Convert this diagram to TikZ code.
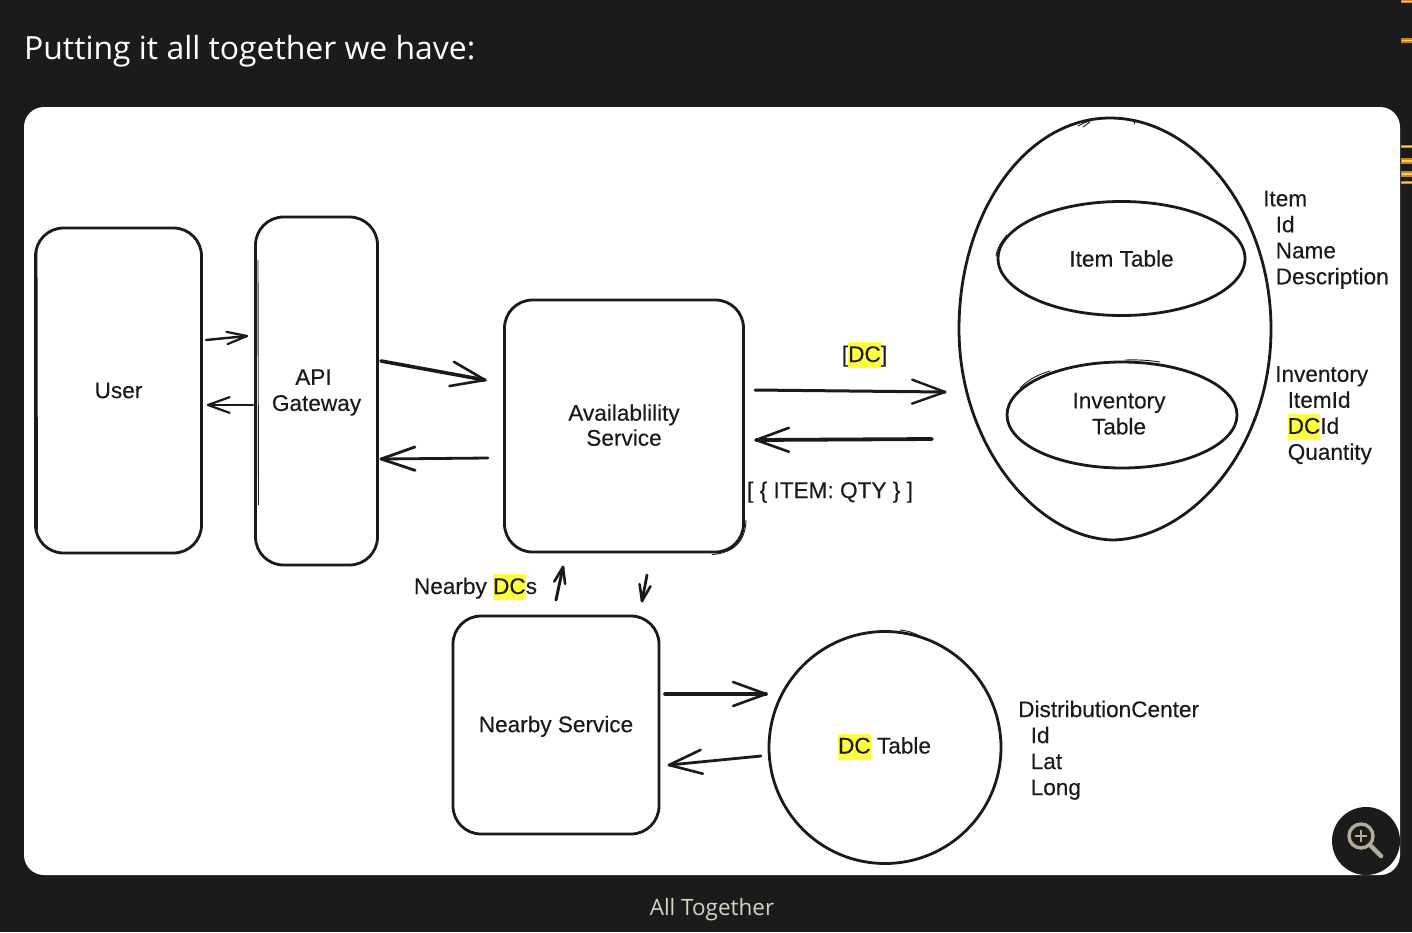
\documentclass[tikz,border=0pt]{standalone}
\usepackage{fontspec}
\setmainfont{Liberation Sans}[RawFeature={embolden=0.25}]
\newfontfamily\capfont{Open Sans}
\usetikzlibrary{shapes.geometric,calc}
\definecolor{bgdark}{HTML}{1B1B1B}
\definecolor{ink}{HTML}{1A1A1A}
\definecolor{hly}{HTML}{FFFF40}
\definecolor{capcol}{HTML}{D8D2C4}
\definecolor{iconcol}{HTML}{B3AB9B}
\definecolor{markor}{HTML}{C9822A}
\definecolor{markye}{HTML}{FFD34D}
\newcommand{\hlt}[1]{{\setlength{\fboxsep}{0pt}\colorbox{hly}{\rule[-6pt]{0pt}{26pt}#1}}}
\newcommand{\sketcharrow}[6]{%
  \draw[skline,line width=#1] (#3) -- (#4);
  \draw[skline,line width=#2] ($(#4)!#5pt!#6:(#3)$) -- (#4) -- ($(#4)!#5pt!-#6:(#3)$);}
\tikzset{
  sketchbox/.style={draw=ink,line width=2.8pt,rounded corners=28pt,inner sep=0pt,align=center,
    font=\fontsize{22.6}{26}\selectfont,text=ink},
  sketchell/.style={ellipse,draw=ink,line width=2.8pt,inner sep=0pt,align=center,
    font=\fontsize{22.6}{26}\selectfont,text=ink},
  lbl/.style={font=\fontsize{22.6}{26}\selectfont,text=ink,align=left,inner sep=0pt},
  skline/.style={draw=ink,line cap=round,line join=round},
  outline/.style={draw=ink,line width=2.8pt,line join=round},
  thinline/.style={draw=ink,line width=0.9pt,line cap=round},
}
\begin{document}
\begin{tikzpicture}[x=1pt,y=-1pt]
\useasboundingbox (0,0) rectangle (1412,932);
\fill[bgdark] (0,0) rectangle (1412,932);
% side marks
\foreach \ya/\yb in {0/3,38/43,145/148,158/164,171/177,181/184}{
  \fill[markor] (1401,\ya) rectangle (1412,\yb);
  \fill[markye] (1402,{(\ya+\yb)/2-0.6}) rectangle (1412,{(\ya+\yb)/2+0.6});
}
\node[anchor=west,inner sep=0pt,text=white,font=\capfont\fontsize{31.9}{38}\selectfont] (title) at (24,51) {Putting it all together we have:};
\fill[white,rounded corners=20pt] (24,107) rectangle (1400,875);
\node[inner sep=0pt,text=capcol,font=\capfont\fontsize{22.5}{28}\selectfont] (cap) at (712,910) {All Together};

% boxes
\node[sketchbox,minimum width=166pt,minimum height=325pt] (user) at (118.5,390.5) {User};
\node[sketchbox,minimum width=122pt,minimum height=348pt] (api) at (316.5,391) {\rule{0pt}{18.5pt}API\hspace*{6pt}\\Gateway};
\node[sketchbox,minimum width=239pt,minimum height=252pt] (avail) at (624,426) {Availablility\\[-1pt]Service\rule[-2pt]{0pt}{1pt}};
\node[sketchbox,minimum width=206pt,minimum height=218pt] (near) at (556,725) {\rule{0pt}{19pt}Nearby Service};

% ellipses
\node[sketchell,draw=none,minimum width=311pt,minimum height=422pt] (db) at (1114.5,329) {};
\draw[outline] (959,329) .. controls (959,212) and (1026,118) .. (1110,118) .. controls (1195,118) and (1271,212) .. (1271,329) .. controls (1271,450) and (1190,538) .. (1113,540) .. controls (1036,538) and (959,445) .. (959,329) -- cycle;
\node[sketchell,minimum width=247pt,minimum height=114pt] (item) at (1121.5,258.5) {Item Table};
\node[sketchell,minimum width=230pt,minimum height=106pt] (inv) at (1122,415) {\hspace{-6pt}\begin{tabular}{@{}c@{}}\rule{0pt}{20.5pt}Inventory\\Table\end{tabular}};
\node[sketchell,minimum width=232pt,minimum height=232pt] (dc) at (885,747.5) {\hspace{-1pt}\hlt{DC} Table\rule[-8pt]{0pt}{1pt}};

% doubled pen strokes
\draw[thinline] (1078,126) .. controls (1095,116) and (1120,115) .. (1135,122);
\draw[thinline] (1083,127) -- (1090,122) (1134,124) -- (1136,120);
\draw[thinline] (1254,418) .. controls (1249,435) and (1241,450) .. (1233,464);
\draw[thinline] (996,256) .. controls (997,248) and (1001,242) .. (1007,235);
\draw[thinline] (1125,360) .. controls (1140,359.5) and (1150,360.5) .. (1160,362);
\draw[thinline] (1020,388) .. controls (1030,378) and (1040,374) .. (1050,371);
\draw[thinline] (900,630) .. controls (910,631) and (918,634) .. (925,640);
\draw[thinline] (258,260) -- (258.5,505);
\draw[thinline] (746,520) .. controls (745.5,540) and (735,553) .. (712,554.5);
\draw[thinline] (37,250) -- (37.5,530);

% labels
\node[lbl,anchor=north west] (itemf) at (1263,190.5) {Item\\\hspace{12.5pt}Id\\\hspace{12.5pt}Name\\\hspace{12.5pt}Description};
\node[lbl,anchor=north west] (invf) at (1275,366) {Inventory\\\hspace{12.5pt}ItemId\\\hspace{12.5pt}\hlt{DC}Id\\\hspace{12.5pt}Quantity};
\node[lbl,anchor=north west] (dcf) at (1018,700.5) {DistributionCenter\\\hspace{12.5pt}Id\\\hspace{12.5pt}Lat\\\hspace{12.5pt}Long};
\node[lbl,anchor=base] (dclab) at (864.5,362) {[\hlt{DC}]};
\node[lbl,anchor=base] (qty) at (830,498) {[ \{ ITEM: QTY \} ]};
\node[lbl,anchor=base] (ndc) at (475.5,594) {Nearby \hlt{DC}s};

% connector ends
\coordinate (a1) at (206,340); \coordinate (a2) at (247,336);
\coordinate (b1) at (253,405); \coordinate (b2) at (208,405);
\coordinate (c1) at (381,361); \coordinate (c2) at (485,380);
\coordinate (d1) at (488,458); \coordinate (d2) at (381,459);
\coordinate (e1) at (755,390); \coordinate (e2) at (945,392);
\coordinate (f1) at (932,439); \coordinate (f2) at (756,440);
\coordinate (g1) at (556,600); \coordinate (g2) at (563,567);
\coordinate (h1) at (647,575); \coordinate (h2) at (642,601);
\coordinate (i1) at (665,694); \coordinate (i2) at (766,694);
\coordinate (j1) at (761,756); \coordinate (j2) at (669,765);

\sketcharrow{2.4pt}{2.2pt}{a1}{a2}{21}{17}
\sketcharrow{2.4pt}{2.2pt}{b1}{b2}{23}{20}
\sketcharrow{3.6pt}{2.6pt}{c1}{c2}{36}{20}
\sketcharrow{2.8pt}{2.8pt}{d1}{d2}{36}{19}
\sketcharrow{3pt}{2.4pt}{e1}{e2}{35}{20}
\sketcharrow{3.8pt}{2.6pt}{f1}{f2}{35}{20}
\sketcharrow{3pt}{2.6pt}{g1}{g2}{17}{19}
\sketcharrow{2.8pt}{2.6pt}{h1}{h2}{17}{19}
\sketcharrow{3.6pt}{2.6pt}{i1}{i2}{35}{20}
\sketcharrow{2.8pt}{2.6pt}{j1}{j2}{35}{20}

% zoom button
\node[circle,fill=bgdark,minimum size=68pt,inner sep=0pt] (zoombtn) at (1366,841) {};
\draw[iconcol,line width=3.4pt] (1361,836) circle (12pt);
\draw[iconcol,line width=4.5pt,line cap=round] (1370,845) -- (1381,856);
\draw[iconcol,line width=1.8pt] (1355,836) -- (1367,836) (1361,830) -- (1361,842);
\end{tikzpicture}
\end{document}
